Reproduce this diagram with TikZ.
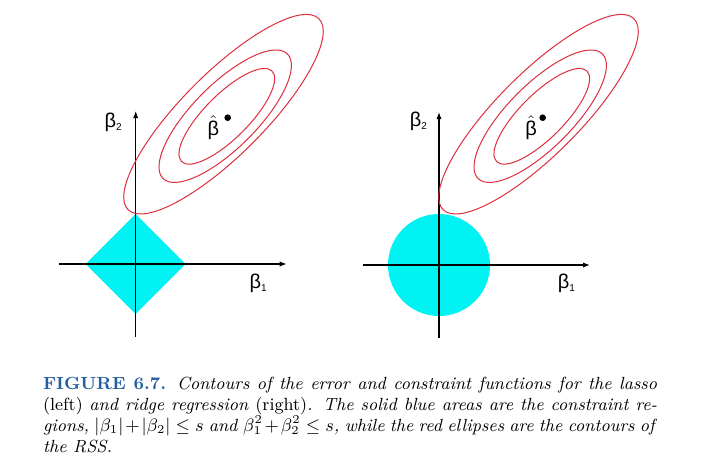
\documentclass[tikz,border=0pt]{standalone}
\usepackage{fontspec}
\newfontfamily\grkfont{Liberation Sans}
\usepackage{amsmath,amssymb}
\usepackage{tikz}
\usetikzlibrary{arrows.meta,calc,positioning}
\usepackage{xcolor}
\definecolor{Lagoon}{RGB}{0,242,242}
\definecolor{Contour}{RGB}{222,45,60}
\definecolor{FigBlue}{RGB}{35,95,160}
\newcommand{\grkb}[1]{{\grkfont β\raisebox{-1.6pt}{\fontsize{5}{5}\selectfont #1}}}

\begin{document}
\begin{tikzpicture}[x=0.5pt,y=0.5pt,
  axis/.style={line width=0.55pt,-{Latex[length=3.5pt,width=2.6pt]}},
  contour/.style={Contour,line width=0.5pt},
  lbl/.style={inner sep=0pt,font=\fontsize{10}{10}\selectfont}]
\useasboundingbox (0,0) rectangle (712,463);
%
% lasso (left)
\begin{scope}[shift={(135.7,199)}]
\fill[Lagoon] (-50,0) -- (0,50) -- (50,0) -- (0,-50) -- cycle;
\draw[axis] (-77,0) -- (151,0);
\draw[axis] (0,-73) -- (0,153);
\node[lbl] (b1L) at (122.5,-19.5) {\grkb{1}};
\node[lbl] (b2L) at (-22.5,141.5) {\grkb{2}};
\coordinate (hatL) at (92,146.3);
\fill (hatL) circle (3.3);
\node[lbl] (betahatL) at (77.6,136.5) {$\hat{\hbox{\grkfont β}}$};
\foreach \dx/\dy/\a/\b in {-4.2/3.5/135/41, -2.5/1.5/88/32, -0.9/1.4/64/22}
  \draw[contour,shift={($(hatL)+(\dx,\dy)$)},rotate=45] (0,0) ellipse [x radius=\a, y radius=\b];
\end{scope}
%
% ridge (right)
\begin{scope}[shift={(439,198)}]
\fill[Lagoon] (0,0) circle (51);
\draw[axis] (-76,0) -- (151,0);
\draw[axis] (0,-73) -- (0,153);
\node[lbl] (b1R) at (127.5,-18) {\grkb{1}};
\node[lbl] (b2R) at (-20.5,144) {\grkb{2}};
\coordinate (hatR) at (103.7,147.3);
\fill (hatR) circle (3.3);
\node[lbl] (betahatR) at (92,137.5) {$\hat{\hbox{\grkfont β}}$};
\foreach \dx/\dy/\a/\b in {-4.2/3.5/135/41, -2.5/1.5/88/32, -0.9/1.4/64/22}
  \draw[contour,shift={($(hatR)+(\dx,\dy)$)},rotate=45] (0,0) ellipse [x radius=\a, y radius=\b];
\end{scope}
%
% caption
\node[anchor=base west,inner sep=0pt] (caption) at (42.7,74) {\parbox[t]{307pt}{%
\fontsize{8.8}{10.6}\selectfont\noindent
\makebox[\linewidth][s]{\textcolor{FigBlue}{\textbf{FIGURE 6.7.}} \textit{Contours of the error and constraint functions for the lasso}}\\
\makebox[\linewidth][s]{(left) \textit{and ridge regression} (right)\textit{. The solid blue areas are the constraint re-}}\\
\makebox[\linewidth][s]{\textit{gions,} $|\beta_1|+|\beta_2|\leq s$ \textit{and} $\beta_1^2+\beta_2^2\leq s$\textit{, while the red ellipses are the contours of}}\\
\textit{the RSS.}}};
\end{tikzpicture}
\end{document}
